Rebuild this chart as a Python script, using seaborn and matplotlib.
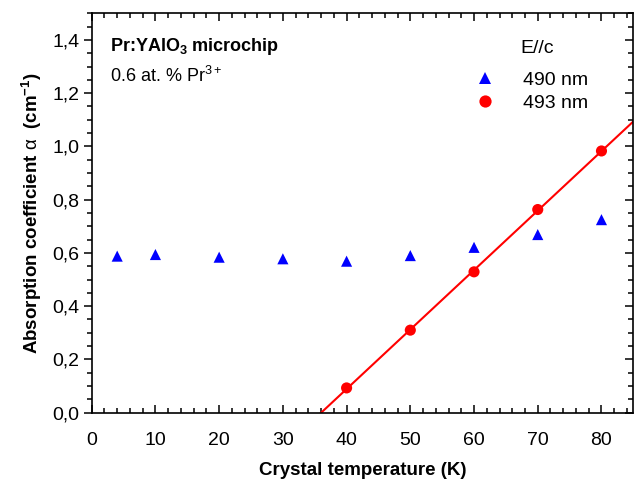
import numpy as np
import pandas as pd
import matplotlib
matplotlib.use("Agg")
import matplotlib.pyplot as plt
from matplotlib.ticker import MultipleLocator, FuncFormatter
import seaborn as sns

# Absorption coefficient vs crystal temperature, Pr:YAlO3, E//c
temp_490 = [4, 10, 20, 30, 40, 50, 60, 70, 80]
alpha_490 = [0.588, 0.594, 0.584, 0.578, 0.569, 0.590, 0.621, 0.669, 0.725]
temp_493 = [40, 50, 60, 70, 80]
alpha_493 = [0.093, 0.310, 0.529, 0.763, 0.983]
series_labels = ["490 nm", "493 nm"]

sns.set_theme(style="ticks", rc={"text.color": "black", "axes.labelcolor": "black",
                                 "xtick.color": "black", "ytick.color": "black",
                                 "axes.edgecolor": "black"})
plt.rcParams["font.family"] = ["Liberation Sans", "DejaVu Sans"]
plt.rcParams["mathtext.fontset"] = "custom"
plt.rcParams["mathtext.rm"] = "Liberation Sans"
plt.rcParams["mathtext.bf"] = "Liberation Sans:bold"

df = pd.concat([
    pd.DataFrame({"T": temp_490, "alpha": alpha_490, "line": series_labels[0]}),
    pd.DataFrame({"T": temp_493, "alpha": alpha_493, "line": series_labels[1]}),
])

fig = plt.figure(figsize=(6.36, 4.82), dpi=100)
ax = fig.add_axes([0.1442, 0.1438, 0.9958 - 0.1442, 0.9724 - 0.1438])
ax.set_xlim(0, 85)
ax.set_ylim(0, 1.5)

sns.scatterplot(data=df, x="T", y="alpha", hue="line", style="line",
                palette={series_labels[0]: "#0000ff", series_labels[1]: "#ff0000"},
                markers={series_labels[0]: "^", series_labels[1]: "o"},
                s=64, linewidth=0, ax=ax, zorder=3)

# linear fit of the 493 nm data across the full temperature range
sns.regplot(x=np.array(temp_493), y=np.array(alpha_493), ci=None,
            truncate=False, scatter=False, ax=ax,
            line_kws={"color": "#ff0000", "lw": 1.5, "zorder": 2})
ax.set_xlim(0, 85)
ax.set_ylim(0, 1.5)

ax.xaxis.set_major_locator(MultipleLocator(10))
ax.xaxis.set_minor_locator(MultipleLocator(2))
ax.set_yticks(np.arange(0, 1.41, 0.2))
ax.yaxis.set_minor_locator(MultipleLocator(0.05))
ax.yaxis.set_major_formatter(FuncFormatter(lambda v, p: f"{v:.1f}".replace(".", ",")))

for s in ax.spines.values():
    s.set_visible(True)
    s.set_linewidth(1.2)
    s.set_color("black")

ax.tick_params(axis="x", which="both", direction="in", top=True, bottom=True,
               labelsize=14, color="black", labelcolor="black", width=1.1, pad=14)
ax.tick_params(axis="y", which="both", direction="out", left=True, right=False,
               labelsize=14, color="black", labelcolor="black", width=1.1, pad=3)
ax.tick_params(which="major", length=6)
ax.tick_params(which="minor", length=3.5)

# inward ticks on the right spine
ax_r = ax.twinx()
ax_r.set_ylim(ax.get_ylim())
ax_r.yaxis.set_major_locator(MultipleLocator(0.2))
ax_r.yaxis.set_minor_locator(MultipleLocator(0.05))
ax_r.tick_params(axis="y", which="both", direction="in", right=True,
                 labelright=False, color="black", width=1.1)
ax_r.tick_params(which="major", length=6)
ax_r.tick_params(which="minor", length=3.5)
for s in ax_r.spines.values():
    s.set_visible(False)

ax.set_xlabel("Crystal temperature (K)", fontsize=13.5, fontweight="bold",
              labelpad=9, color="black")
ax.set_ylabel(r"Absorption coefficient $\mathrm{\alpha}$  (cm$^{\mathbf{-1}}$)",
              fontsize=13.5, fontweight="bold", labelpad=6, color="black")

ax.text(0.033, 0.918, r"Pr:YAlO$_{\mathbf{3}}$ microchip", transform=ax.transAxes,
        fontsize=13, fontweight="bold", va="center", ha="left", color="black")
ax.text(0.033, 0.843, r"0.6 at. % Pr$^{3+}$", transform=ax.transAxes,
        fontsize=13, va="center", ha="left", color="black")

# legend heading
ax.text(0.791, 0.912, "E//c", transform=ax.transAxes, fontsize=14,
        va="center", ha="left", color="black")

handles, labels = ax.get_legend_handles_labels()
leg = ax.legend(handles, labels, loc="upper left",
                bbox_to_anchor=(0.690, 0.855), frameon=False, fontsize=14,
                handletextpad=0.95, labelspacing=0.3, handlelength=2.0,
                borderpad=0.0, borderaxespad=0.0, markerscale=1.1,
                labelcolor="black")

fig.savefig("out.png", dpi=100)
